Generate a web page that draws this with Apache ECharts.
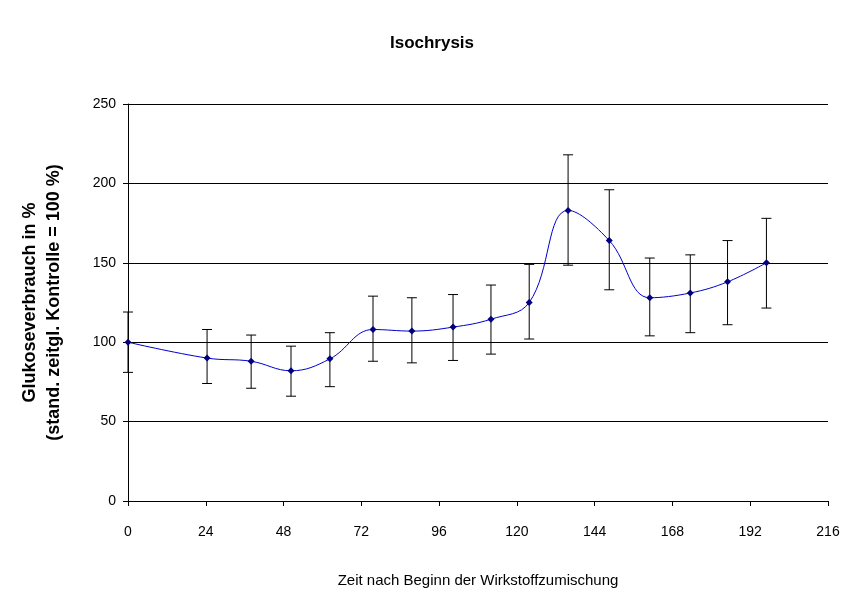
<!DOCTYPE html>
<html><head><meta charset="utf-8">
<script src="https://cdn.jsdelivr.net/npm/echarts@6/dist/echarts.min.js"></script>
<style>html,body{margin:0;background:#fff}#c{width:864px;height:612px}</style>
</head><body><div id="c"></div>
<script>
var hours = [0, 24.4, 38, 50.3, 62.3, 75.6, 87.6, 100.3, 112, 123.8, 135.8, 148.5, 161, 173.5, 185, 197];
var values = [100, 90, 88, 82, 89.5, 108, 107, 109.5, 114.5, 125, 183, 164, 128, 131, 138, 150];
var errLow = [81, 74, 71, 66, 72, 88, 87, 88.5, 92.5, 102, 148.5, 133, 104, 106, 111, 121.5];
var errHigh = [119, 108, 104.5, 97.5, 106, 129, 128, 130, 136, 149, 218, 196, 153, 155, 164, 178];
var xTicks = [0, 24, 48, 72, 96, 120, 144, 168, 192, 216];

var chart = echarts.init(document.getElementById('c'));
chart.setOption({
  animation: false,
  backgroundColor: '#fff',
  textStyle: {fontFamily: 'Liberation Sans, Arial'},
  title: {text: 'Isochrysis', left: 'center', top: 30,
    textStyle: {fontSize: 17, fontWeight: 'bold', color: '#000', fontFamily: 'Liberation Sans'}},
  grid: {left: 128, right: 36, top: 104, bottom: 111},
  xAxis: {
    type: 'value', min: 0, max: 216, interval: 24,
    name: 'Zeit nach Beginn der Wirkstoffzumischung', nameLocation: 'middle', nameGap: 72,
    nameTextStyle: {fontSize: 15, color: '#000'},
    axisLine: {lineStyle: {color: '#000'}}, axisTick: {lineStyle: {color: '#000'}, inside: false},
    axisLabel: {color: '#000', fontSize: 14, margin: 24, formatter: function (v) { return xTicks.indexOf(v) >= 0 ? v : ''; }},
    splitLine: {show: false}
  },
  yAxis: {
    type: 'value', min: 0, max: 250, interval: 50,
    name: 'Glukoseverbrauch in %\n(stand. zeitgl. Kontrolle = 100 %)', nameLocation: 'middle', nameGap: 62,
    nameTextStyle: {fontSize: 18, fontWeight: 'bold', color: '#000', lineHeight: 24},
    axisLine: {show: true, lineStyle: {color: '#000'}}, axisTick: {show: true, lineStyle: {color: '#000'}},
    axisLabel: {color: '#000', fontSize: 14, margin: 12},
    splitLine: {lineStyle: {color: '#000', width: 1}}
  },
  series: [
    {
      type: 'line', smooth: 0.4, data: hours.map(function (h, i) { return [h, values[i]]; }),
      symbol: 'diamond', symbolSize: 7,
      lineStyle: {color: '#0000cc', width: 1}, itemStyle: {color: '#000080'}, z: 3
    },
    {
      type: 'custom', z: 2,
      data: hours.map(function (h, i) { return [h, errLow[i], errHigh[i]]; }),
      renderItem: function (params, api) {
        var lo = api.coord([api.value(0), api.value(1)]);
        var hi = api.coord([api.value(0), api.value(2)]);
        var w = 5, s = {stroke: '#000', lineWidth: 1};
        return {type: 'group', children: [
          {type: 'line', shape: {x1: lo[0], y1: lo[1], x2: hi[0], y2: hi[1]}, style: s},
          {type: 'line', shape: {x1: lo[0] - w, y1: lo[1], x2: lo[0] + w, y2: lo[1]}, style: s},
          {type: 'line', shape: {x1: hi[0] - w, y1: hi[1], x2: hi[0] + w, y2: hi[1]}, style: s}
        ]};
      }
    }
  ]
});
</script></body></html>
